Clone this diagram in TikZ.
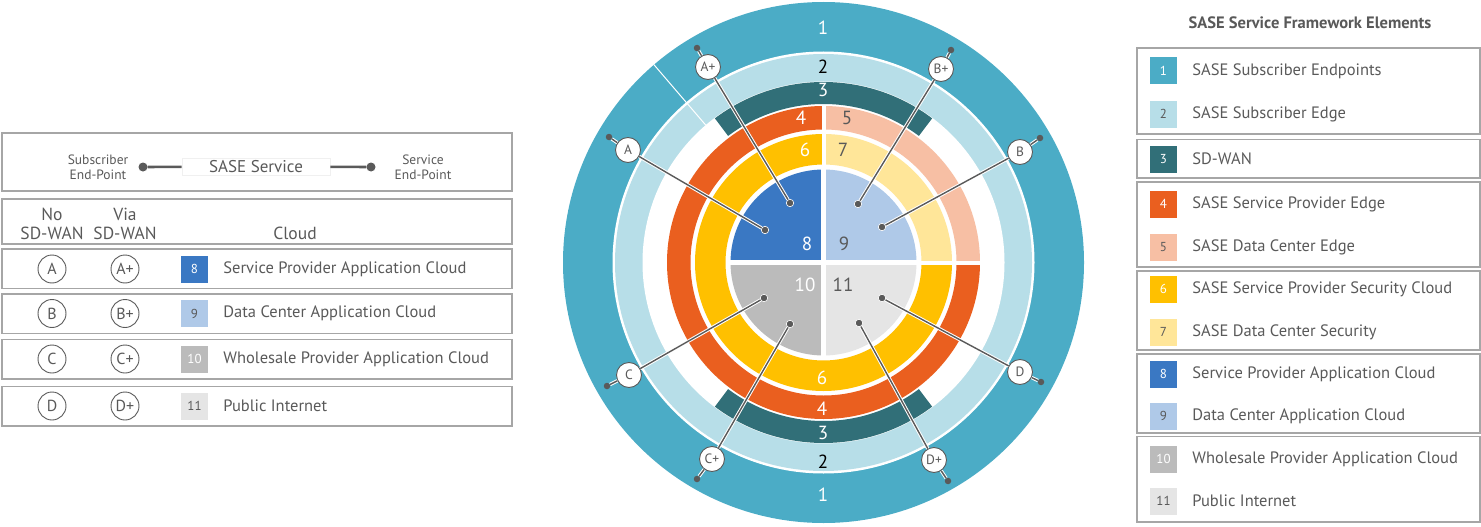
\documentclass[tikz,border=0pt]{standalone}
\usepackage{fontspec}
\setmainfont{PT Sans}
\usetikzlibrary{positioning}
\definecolor{tealEP}{HTML}{4BACC6}
\definecolor{skyEdge}{HTML}{B7DEE8}
\definecolor{petrolWan}{HTML}{316F78}
\definecolor{orangeSP}{HTML}{EA5F1F}
\definecolor{salmonDC}{HTML}{F7BFA4}
\definecolor{goldSec}{HTML}{FFC000}
\definecolor{creamSec}{HTML}{FFE699}
\definecolor{blueApp}{HTML}{3A78C3}
\definecolor{blueDC}{HTML}{AFC9E8}
\definecolor{greyWS}{HTML}{BBBBBB}
\definecolor{greyNet}{HTML}{E5E5E5}
\definecolor{greyTx}{HTML}{595959}
\definecolor{greyBox}{HTML}{A6A6A6}
\definecolor{greyWire}{HTML}{5A5A5A}
\newcommand{\ringband}[5]{\fill[#1] (#2:#4) arc[start angle=#2,end angle=#3,radius=#4]
  -- (#3:#5) arc[start angle=#3,end angle=#2,radius=#5] -- cycle;}

\begin{document}
\begin{tikzpicture}[x=1pt,y=-1pt,
  lbl/.style={font=\fontsize{16.5}{19}\selectfont,text=greyTx,anchor=west,inner sep=0pt},
  hdr/.style={font=\fontsize{17.5}{19}\selectfont,text=greyTx,align=center,inner sep=0pt},
  small/.style={font=\fontsize{13.5}{15}\selectfont,text=greyTx,align=center,inner sep=0pt},
  box/.style={draw=greyBox,line width=1.6pt},
  swatch/.style={minimum size=27pt,inner sep=0pt,font=\fontsize{13}{13}\selectfont},
  tag/.style={circle,draw=greyWire,fill=white,line width=.9pt,minimum size=25pt,inner sep=0pt,
    font=\fontsize{13.5}{13.5}\selectfont,text=greyTx},
  bigtag/.style={tag,minimum size=28pt,font=\fontsize{16}{16}\selectfont},
  dot/.style={circle,fill=greyWire,draw=white,line width=.6pt,minimum size=7.5pt,inner sep=0pt},
  pin/.style={circle,fill=greyWire,minimum size=6.5pt,inner sep=0pt},
  wire/.style={draw=greyWire,line width=1.4pt,preaction={draw=white,line width=3.4pt}},
  num/.style={font=\fontsize{19}{19}\selectfont,text=white,inner sep=0pt},
  ]
  \useasboundingbox (0,0) rectangle (1481,527);

  % rings
  \begin{scope}[shift={(823.5,262.5)},y=1pt]
    \fill[tealEP] (0,0) circle[radius=260.5];
    \fill[white] (0,0) circle[radius=211];
    \fill[skyEdge] (0,0) circle[radius=208.5];
    \fill[white] (0,0) circle[radius=181];
    \draw[white,line width=1pt] (130.6:181) -- (130.6:261);
    \ringband{petrolWan}{53}{127}{180.5}{158.5}
    \ringband{petrolWan}{233}{307}{180.5}{158.5}
    \ringband{orangeSP}{90}{360}{156.5}{133}
    \ringband{salmonDC}{0}{90}{156.5}{133}
    \ringband{goldSec}{90}{360}{128.5}{98}
    \ringband{creamSec}{0}{90}{128.5}{98}
    \draw[white,line width=4pt] (0,96) -- (0,158) (96,0) -- (158,0);
    \fill[blueApp] (0,0) -- (90:93) arc[start angle=90,end angle=180,radius=93] -- cycle;
    \fill[blueDC] (0,0) -- (0:93) arc[start angle=0,end angle=90,radius=93] -- cycle;
    \fill[greyWS] (0,0) -- (180:93) arc[start angle=180,end angle=270,radius=93] -- cycle;
    \fill[greyNet] (0,0) -- (270:93) arc[start angle=270,end angle=360,radius=93] -- cycle;
    \draw[white,line width=4.5pt] (0,-94) -- (0,94) (-94,0) -- (94,0);
  \end{scope}

  \node[num] (n1a) at (823,28) {1};
  \node[num] (n1b) at (823,495) {1};
  \node[num,text=black] (n2a) at (823,67) {2};
  \node[num,text=black] (n2b) at (823,462) {2};
  \node[num] (n3a) at (823,90) {3};
  \node[num] (n3b) at (823,433) {3};
  \node[num] (n4a) at (801,118) {4};
  \node[num,text=greyTx] (n5) at (847,118) {5};
  \node[num] (n4b) at (822,409) {4};
  \node[num] (n6a) at (805,150) {6};
  \node[num,text=greyTx] (n7) at (843,150) {7};
  \node[num] (n6b) at (822,378) {6};
  \node[num] (n8) at (807,244) {8};
  \node[num,text=greyTx] (n9) at (844,244) {9};
  \node[num] (n10) at (805,285) {10};
  \node[num,text=greyTx] (n11) at (843,285) {11};

  % end-points on the rings
  \node[dot] (dA) at (765,230) {};
  \node[dot] (dAp) at (790,203) {};
  \node[dot] (dB) at (882,227) {};
  \node[dot] (dBp) at (858,204) {};
  \node[dot] (dC) at (764,298) {};
  \node[dot] (dCp) at (790,324) {};
  \node[dot] (dD) at (882,298) {};
  \node[dot] (dDp) at (859,323) {};
  \node[pin] (pA) at (609,137) {};
  \node[pin] (pAp) at (697,48) {};
  \node[pin] (pB) at (1040,138) {};
  \node[pin] (pBp) at (951,50) {};
  \node[pin] (pC) at (607,386) {};
  \node[pin] (pCp) at (697,479) {};
  \node[pin] (pD) at (1041,382) {};
  \node[pin] (pDp) at (948,481) {};
  \node[tag] (tA) at (628,150) {A};
  \node[tag] (tAp) at (708,67) {A+};
  \node[tag] (tB) at (1020,152) {B};
  \node[tag] (tBp) at (941,69) {B+};
  \node[tag] (tC) at (629,375) {C};
  \node[tag] (tCp) at (712,459) {C+};
  \node[tag] (tD) at (1020,372) {D};
  \node[tag] (tDp) at (934,460) {D+};
  \draw[wire] (tA) -- (dA);
  \draw[wire] (tAp) -- (dAp);
  \draw[wire] (tB) -- (dB);
  \draw[wire] (tBp) -- (dBp);
  \draw[wire] (tC) -- (dC);
  \draw[wire] (tCp) -- (dCp);
  \draw[wire] (tD) -- (dD);
  \draw[wire] (tDp) -- (dDp);
  \draw[wire] (tA) -- (pA);
  \draw[wire] (tAp) -- (pAp);
  \draw[wire] (tB) -- (pB);
  \draw[wire] (tBp) -- (pBp);
  \draw[wire] (tC) -- (pC);
  \draw[wire] (tCp) -- (pCp);
  \draw[wire] (tD) -- (pD);
  \draw[wire] (tDp) -- (pDp);

  % left legend
  \draw[box] (2,133) rectangle (512,191);
  \node[small] (subEP) at (98,167) {Subscriber\\End-Point};
  \node[pin,minimum size=9pt] (subDot) at (143,167) {};
  \node[draw=black!6,line width=.6pt,minimum width=148pt,minimum height=17pt,inner sep=0pt,
    font=\fontsize{17}{17}\selectfont,text=greyTx] (sase) at (256,166.5) {SASE Service};
  \node[pin,minimum size=9pt] (svcDot) at (371,167) {};
  \node[small] (svcEP) at (423,167) {Service\\End-Point};
  \draw[greyWire,line width=2.6pt] (subDot) -- (sase);
  \draw[greyWire,line width=2.6pt] (sase) -- (svcDot);

  \draw[box] (2,199) rectangle (512,244);
  \node[hdr] (noSd) at (52,223.5) {No\\SD-WAN};
  \node[hdr] (viaSd) at (125,223.5) {Via\\SD-WAN};
  \node[hdr] (cloud) at (295,233) {Cloud};

  \draw[box] (2,249) rectangle (512,288.5);
  \node[bigtag] (lA) at (52,269) {A};
  \node[bigtag] (lAp) at (125,269) {A+};
  \node[swatch,fill=blueApp,text=white] (ls8) at (194.5,269) {8};
  \node[lbl,right=15pt of ls8] (lt8) {Service Provider Application Cloud};

  \draw[box] (2,294) rectangle (512,333.5);
  \node[bigtag] (lB) at (52,313.5) {B};
  \node[bigtag] (lBp) at (125,313.5) {B+};
  \node[swatch,fill=blueDC,text=greyTx] (ls9) at (194.5,313.5) {9};
  \node[lbl,right=15pt of ls9] (lt9) {Data Center Application Cloud};

  \draw[box] (2,339.5) rectangle (512,379);
  \node[bigtag] (lC) at (52,359) {C};
  \node[bigtag] (lCp) at (125,359) {C+};
  \node[swatch,fill=greyWS,text=white] (ls10) at (194.5,359) {10};
  \node[lbl,right=15pt of ls10] (lt10) {Wholesale Provider Application Cloud};

  \draw[box] (2,386.5) rectangle (512,426);
  \node[bigtag] (lD) at (52,406) {D};
  \node[bigtag] (lDp) at (125,406) {D+};
  \node[swatch,fill=greyNet,text=greyTx] (ls11) at (194.5,406) {11};
  \node[lbl,right=15pt of ls11] (lt11) {Public Internet};

  % right legend
  \node[font=\bfseries\fontsize{16.5}{16.5}\selectfont,text=greyTx] (title) at (1310,23)
    {SASE Service Framework Elements};
  \draw[box] (1137,48) rectangle (1480,134);
  \draw[box] (1137,139.5) rectangle (1480,178);
  \draw[box] (1137,182) rectangle (1480,267);
  \draw[box] (1137,271) rectangle (1480,350);
  \draw[box] (1137,354) rectangle (1480,433);
  \draw[box] (1137,436.5) rectangle (1480,522);
  \node[swatch,fill=tealEP,text=white] (s1) at (1163.5,71) {1};
  \node[lbl,right=15pt of s1] (e1) {SASE Subscriber Endpoints};
  \node[swatch,fill=skyEdge,text=greyTx] (s2) at (1163.5,114) {2};
  \node[lbl,right=15pt of s2] (e2) {SASE Subscriber Edge};
  \node[swatch,fill=petrolWan,text=white] (s3) at (1163.5,159) {3};
  \node[lbl,right=15pt of s3] (e3) {SD-WAN};
  \node[swatch,fill=orangeSP,text=white] (s4) at (1163.5,204) {4};
  \node[lbl,right=15pt of s4] (e4) {SASE Service Provider Edge};
  \node[swatch,fill=salmonDC,text=greyTx] (s5) at (1163.5,247) {5};
  \node[lbl,right=15pt of s5] (e5) {SASE Data Center Edge};
  \node[swatch,fill=goldSec,text=white] (s6) at (1163.5,289) {6};
  \node[lbl,right=15pt of s6] (e6) {SASE Service Provider Security Cloud};
  \node[swatch,fill=creamSec,text=greyTx] (s7) at (1163.5,332) {7};
  \node[lbl,right=15pt of s7] (e7) {SASE Data Center Security};
  \node[swatch,fill=blueApp,text=white] (s8) at (1163.5,374) {8};
  \node[lbl,right=15pt of s8] (e8) {Service Provider Application Cloud};
  \node[swatch,fill=blueDC,text=greyTx] (s9) at (1163.5,416) {9};
  \node[lbl,right=15pt of s9] (e9) {Data Center Application Cloud};
  \node[swatch,fill=greyWS,text=white] (s10) at (1163.5,459) {10};
  \node[lbl,right=15pt of s10] (e10) {Wholesale Provider Application Cloud};
  \node[swatch,fill=greyNet,text=greyTx] (s11) at (1163.5,501) {11};
  \node[lbl,right=15pt of s11] (e11) {Public Internet};
\end{tikzpicture}
\end{document}
